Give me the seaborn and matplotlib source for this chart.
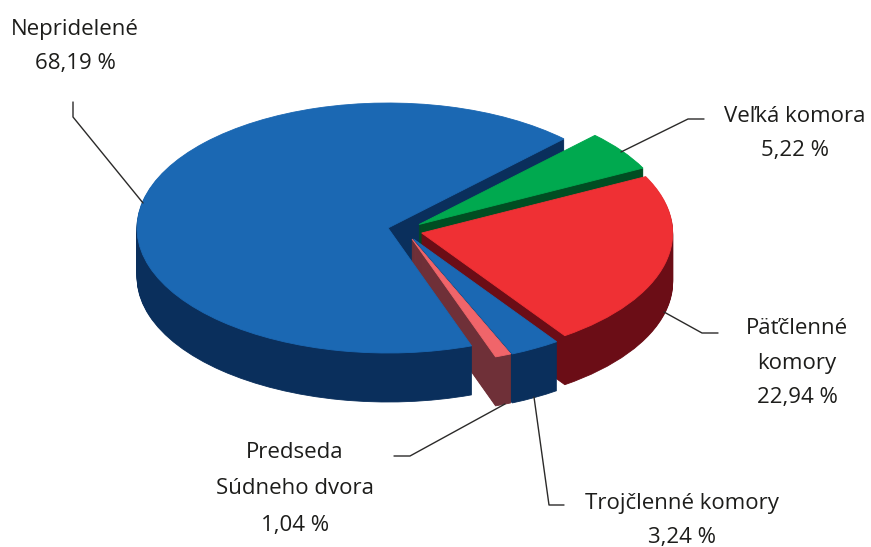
import matplotlib
matplotlib.use("Agg")
import matplotlib.pyplot as plt
from matplotlib.lines import Line2D
import seaborn as sns

# --- data ---
categories = ["Nepridelené", "Predseda Súdneho dvora", "Trojčlenné komory", "Päťčlenné komory", "Veľká komora"]
values = [68.19, 1.04, 3.24, 22.94, 5.22]
value_labels = ["68,19 %", "1,04 %", "3,24 %", "22,94 %", "5,22 %"]

# --- style ---
top_colors = ["#1b68b3", "#f0656a", "#1b68b3", "#ef3034", "#00a94f"]
side_colors = ["#0a2f5c", "#6f3038", "#0a2f5c", "#6b0d16", "#004d22"]
centres_px = [(388, 228), (412, 239), (413.5, 239), (421.7, 233), (419, 224.5)]
RX, RY, DEPTH = 251.0, 125.0, 49
W, H = 871, 547
OX, OY = 388.0, 228.0

sns.set_theme(style="white")
plt.rcParams["font.family"] = ["Open Sans", "DejaVu Sans"]
fig = plt.figure(figsize=(W / 100, H / 100), dpi=100, facecolor="white")
ax = fig.add_axes([0, 0, 1, 1])


def draw_layer(colours, drop):
    wedges, _ = ax.pie(values, startangle=45.5, colors=colours,
                       wedgeprops=dict(linewidth=0.6))
    for w, (cx, cy), c in zip(wedges, centres_px, colours):
        w.set_center(((cx - OX) / RX, -(cy + drop - OY) / RY))
        w.set_edgecolor(c)


for d in range(DEPTH, 0, -1):
    draw_layer(side_colors, d)
draw_layer(top_colors, 0)

ax.set_aspect("auto")
ax.set_xlim(-OX / RX, (W - OX) / RX)
ax.set_ylim((OY - H) / RY, OY / RY)
ax.axis("off")


def fx(x):
    return x / W


def fy(y):
    return 1 - y / H


leaders = [
    [(73, 102), (73, 117), (143, 203)],
    [(704, 119), (688, 119), (621, 152)],
    [(718, 333), (702, 333), (664, 312)],
    [(564, 505), (549, 505), (534, 397)],
    [(394, 456), (410, 456), (505, 404)],
]
for pts in leaders:
    fig.add_artist(Line2D([fx(p[0]) for p in pts], [fy(p[1]) for p in pts],
                          transform=fig.transFigure, color="#2b2a29", lw=1.0))

label_lines = [
    (75, [(30, "Nepridelené"), (64, value_labels[0])]),
    (795, [(116, "Veľká komora"), (151, value_labels[4])]),
    (797, [(328, "Päťčlenné"), (363, "komory"), (398, value_labels[3])]),
    (295, [(453, "Predseda"), (489, "Súdneho dvora"), (525, value_labels[1])]),
    (682, [(503, "Trojčlenné komory"), (537, value_labels[2])]),
]
for x, rows in label_lines:
    for y, s in rows:
        fig.text(fx(x), fy(y), s, ha="center", va="center", fontsize=16,
                 color="#1d1d1b")

fig.savefig("out.png", dpi=100)
